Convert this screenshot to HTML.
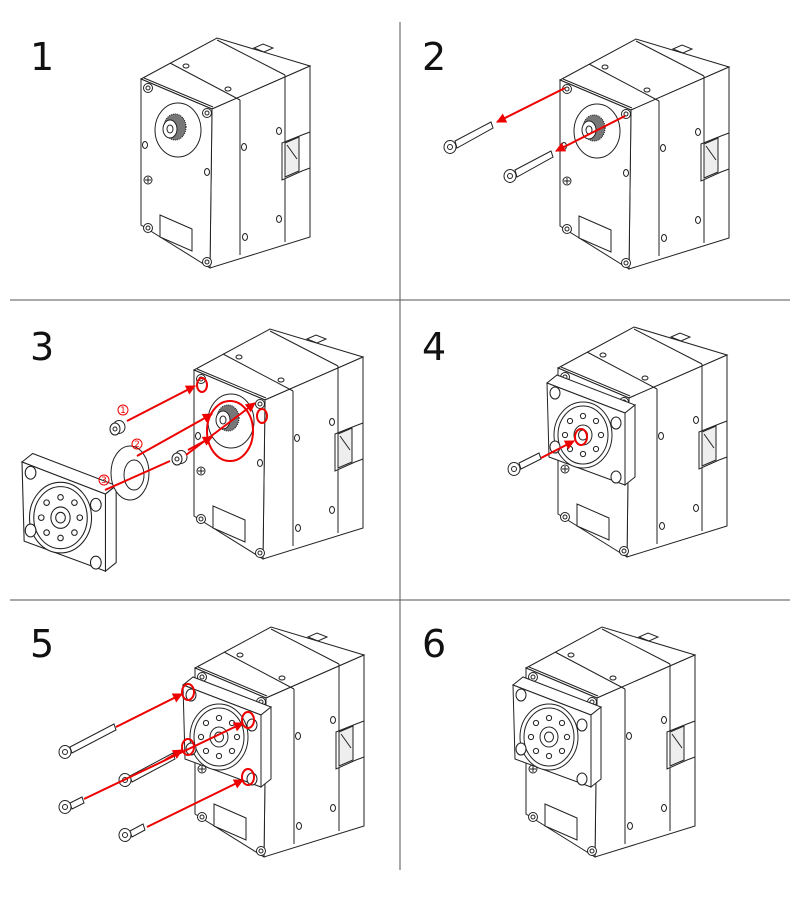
<!DOCTYPE html>
<html><head><meta charset="utf-8"><style>
html,body{margin:0;padding:0;background:#fff;}
svg{display:block;}
text{font-family:"DejaVu Sans","Liberation Sans",sans-serif;}
</style></head><body>
<svg width="800" height="900" viewBox="0 0 800 900" xmlns="http://www.w3.org/2000/svg">
<defs>
<marker id="ar" viewBox="0 0 10 10" refX="9" refY="5" markerWidth="5" markerHeight="5" orient="auto-start-reverse">
<path d="M0,0 L10,5 L0,10 z" fill="#e00"/>
</marker>
<g id="servo" fill="#fff" stroke="#222" stroke-width="1">
  <polygon points="0,0 76,-41 169,-13 71,30"/>
  <polygon points="71,30 169,-13 169,158 69,189"/>
  <polygon points="0,0 71,30 69,189 0,146"/>
  <line x1="29" y1="-16" x2="99" y2="21"/>
  <line x1="76" y1="-39" x2="144" y2="-4"/>
  <line x1="99" y1="21" x2="99" y2="176"/>
  <line x1="144" y1="-4" x2="144" y2="163"/>
  <line x1="3" y1="-1" x2="72" y2="28"/>
  <polygon points="113,-31 122,-35 132,-31 123,-27"/>
  <ellipse cx="45" cy="-13" rx="3" ry="2"/>
  <ellipse cx="87" cy="10" rx="3" ry="2"/>
  <polygon points="141,64 161,56 169,53 169,89 161,92 141,101"/>
  <polygon points="144,64 158,58 158,92 144,98" fill="#eee"/>
  <line x1="146" y1="66" x2="156" y2="80"/>
  <ellipse cx="138" cy="52" rx="2.5" ry="3.5"/>
  <ellipse cx="103" cy="68" rx="2.5" ry="3.5"/>
  <ellipse cx="138" cy="140" rx="2.5" ry="3.5"/>
  <ellipse cx="104" cy="158" rx="2.5" ry="3.5"/>
  <ellipse cx="4" cy="66" rx="2.5" ry="3.5"/>
  <ellipse cx="66" cy="93" rx="2.5" ry="3.5"/>
  <circle cx="7" cy="101" r="4"/>
  <path d="M4,101 h6 M7,98 v6"/>
  <circle cx="7" cy="9" r="4.5"/><circle cx="7" cy="9" r="2"/>
  <circle cx="66" cy="34" r="4.5"/><circle cx="66" cy="34" r="2"/>
  <circle cx="7" cy="149" r="4.5"/><circle cx="7" cy="149" r="2"/>
  <circle cx="66" cy="183" r="4.5"/><circle cx="66" cy="183" r="2"/>
  <polygon points="19,136 51,150 51,172 19,158"/>
</g>
<g id="gear" fill="#fff" stroke="#222" stroke-width="1">
  <ellipse cx="37" cy="51" rx="23" ry="27"/>
  <ellipse cx="34" cy="48" rx="11" ry="13" fill="#777" stroke="#111" stroke-dasharray="1 1"/>
  <ellipse cx="29" cy="50" rx="7" ry="9" fill="#fff"/>
  <ellipse cx="29" cy="50" rx="3" ry="4"/>
</g>
<g id="bracket" fill="#fff" stroke="#222" stroke-width="1">
  <polygon points="0,0 10,-8 88,22 78,30"/>
  <polygon points="78,30 88,22 88,94 78,102"/>
  <polygon points="0,0 78,30 78,102 2,74"/>
  <ellipse cx="36" cy="52" rx="29" ry="33"/>
  <ellipse cx="36" cy="52" rx="25" ry="29"/>
  <ellipse cx="36" cy="52" rx="9" ry="10"/>
  <ellipse cx="36" cy="52" rx="4.5" ry="5"/>
  <g>
  <circle cx="36" cy="33" r="2.6"/><circle cx="49" cy="38" r="2.6"/>
  <circle cx="54" cy="52" r="2.6"/><circle cx="49" cy="66" r="2.6"/>
  <circle cx="36" cy="71" r="2.6"/><circle cx="23" cy="66" r="2.6"/>
  <circle cx="18" cy="52" r="2.6"/><circle cx="23" cy="38" r="2.6"/>
  </g>
  <ellipse cx="8" cy="10" rx="5" ry="6"/>
  <ellipse cx="69" cy="40" rx="5" ry="6"/>
  <ellipse cx="69" cy="94" rx="5" ry="6"/>
  <ellipse cx="8" cy="64" rx="5" ry="6"/>
</g>
</defs>

<line x1="400" y1="22" x2="400" y2="870" stroke="#555" stroke-width="1"/>
<line x1="10" y1="300" x2="790" y2="300" stroke="#555" stroke-width="1"/>
<line x1="10" y1="600" x2="790" y2="600" stroke="#555" stroke-width="1"/>

<g font-size="38" fill="#111">
<text x="30" y="70">1</text>
<text x="422" y="70">2</text>
<text x="30" y="360">3</text>
<text x="422" y="360">4</text>
<text x="30" y="657">5</text>
<text x="422" y="657">6</text>
</g>

<g transform="translate(141,79)"><use href="#servo"/><use href="#gear"/></g>

<g transform="translate(560,80)"><use href="#servo"/><use href="#gear"/></g>
<g fill="#fff" stroke="#222" stroke-width="1">
 <polygon points="455,141 491,122 493,128 457,148"/>
 <ellipse cx="450" cy="147" rx="6" ry="6.5"/><circle cx="450" cy="147" r="2.5"/>
 <polygon points="515,170 551,151 553,157 517,177"/>
 <ellipse cx="510" cy="176" rx="6" ry="6.5"/><circle cx="510" cy="176" r="2.5"/>
</g>
<g stroke="#e00" stroke-width="2" fill="none">
 <line x1="565" y1="88" x2="497" y2="122" marker-end="url(#ar)"/>
 <line x1="625" y1="116" x2="556" y2="151" marker-end="url(#ar)"/>
</g>

<g transform="translate(194,370)"><use href="#servo"/><use href="#gear"/></g>
<g transform="translate(22,462) scale(1.07)"><use href="#bracket"/></g>
<g fill="#fff" stroke="#222" stroke-width="1">
 <ellipse cx="130" cy="473" rx="19" ry="27"/>
 <ellipse cx="134" cy="475" rx="10" ry="15"/>
 <ellipse cx="119" cy="427" rx="6" ry="6.5"/><ellipse cx="115" cy="429" rx="5" ry="6"/><circle cx="115" cy="429" r="2"/>
 <ellipse cx="181" cy="457" rx="6" ry="6.5"/><ellipse cx="177" cy="459" rx="5" ry="6"/><circle cx="177" cy="459" r="2"/>
</g>
<g stroke="#e00" stroke-width="2" fill="none">
 <line x1="127" y1="421" x2="195" y2="386" marker-end="url(#ar)"/>
 <line x1="137" y1="456" x2="212" y2="414" marker-end="url(#ar)"/>
 <line x1="105" y1="490" x2="170" y2="461"/>
 <line x1="186" y1="455" x2="255" y2="403" marker-end="url(#ar)"/>
 <line x1="188" y1="450" x2="212" y2="437" marker-end="url(#ar)"/>
 <ellipse cx="202" cy="385" rx="5" ry="7"/>
 <ellipse cx="262" cy="416" rx="5" ry="7"/>
 <ellipse cx="230" cy="431" rx="23" ry="30"/>
</g>
<g fill="#e00" font-size="9" text-anchor="middle">
 <circle cx="123" cy="410" r="5" fill="none" stroke="#e00" stroke-width="1"/><text x="123" y="413">1</text>
 <circle cx="137" cy="444" r="5" fill="none" stroke="#e00" stroke-width="1"/><text x="137" y="447">2</text>
 <circle cx="104" cy="480" r="5" fill="none" stroke="#e00" stroke-width="1"/><text x="104" y="483">3</text>
</g>

<g transform="translate(558,368)"><use href="#servo"/></g>
<g transform="translate(547,383)"><use href="#bracket"/></g>
<g fill="#fff" stroke="#222" stroke-width="1">
 <polygon points="519,463 539,453 541,459 521,469"/>
 <ellipse cx="514" cy="469" rx="6" ry="6.5"/><circle cx="514" cy="469" r="2.5"/>
</g>
<g stroke="#e00" stroke-width="2" fill="none">
 <line x1="541" y1="458" x2="574" y2="441" marker-end="url(#ar)"/>
 <ellipse cx="581" cy="437" rx="6" ry="8"/>
</g>

<g transform="translate(195,668)"><use href="#servo"/></g>
<g transform="translate(183,685)"><use href="#bracket"/></g>
<g fill="#fff" stroke="#222" stroke-width="1">
 <polygon points="70,747 114,724 116,730 72,753"/>
 <ellipse cx="65" cy="752" rx="6" ry="6.5"/><circle cx="65" cy="752" r="2.5"/>
 <polygon points="70,803 82,797 84,803 72,809"/>
 <ellipse cx="65" cy="807" rx="6" ry="6.5"/><circle cx="65" cy="807" r="2.5"/>
 <polygon points="130,776 173,753 175,759 132,782"/>
 <ellipse cx="125" cy="780" rx="6" ry="6.5"/><circle cx="125" cy="780" r="2.5"/>
 <polygon points="130,831 143,824 145,830 132,837"/>
 <ellipse cx="125" cy="835" rx="6" ry="6.5"/><circle cx="125" cy="835" r="2.5"/>
</g>
<g stroke="#e00" stroke-width="2" fill="none">
 <line x1="116" y1="727" x2="182" y2="694" marker-end="url(#ar)"/>
 <line x1="84" y1="799" x2="243" y2="723" marker-end="url(#ar)"/>
 <line x1="165" y1="760" x2="182" y2="750" marker-end="url(#ar)"/>
 <line x1="147" y1="827" x2="243" y2="780" marker-end="url(#ar)"/>
 <ellipse cx="188" cy="692" rx="6" ry="8"/>
 <ellipse cx="248" cy="720" rx="6" ry="8"/>
 <ellipse cx="188" cy="747" rx="6" ry="8"/>
 <ellipse cx="248" cy="777" rx="6" ry="8"/>
</g>

<g transform="translate(526,668)"><use href="#servo"/></g>
<g transform="translate(513,685)"><use href="#bracket"/></g>
</svg>
</body></html>
